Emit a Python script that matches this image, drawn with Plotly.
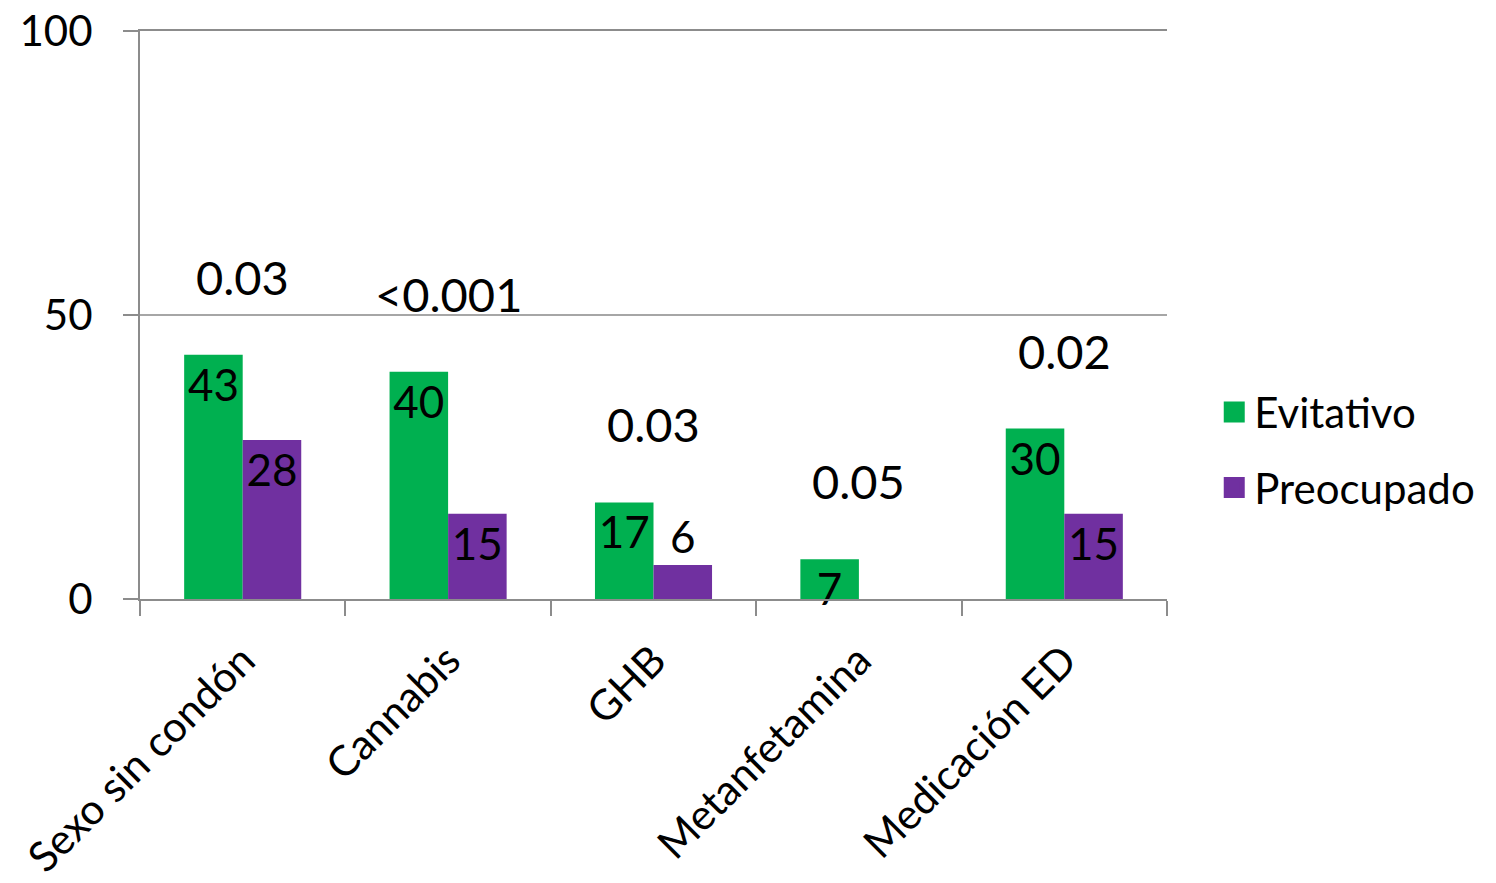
import plotly.graph_objects as go

categories = ["Sexo sin condón", "Cannabis", "GHB", "Metanfetamina", "Medicación ED"]
evitativo = [43, 40, 17, 7, 30]
preocupado = [28, 15, 6, None, 15]
p_values = ["0.03", "<0.001", "0.03", "0.05", "0.02"]
y_ticks = [0, 50, 100]

FONT = "Lato"
GREEN = "#00B050"
PURPLE = "#7030A0"
AXIS = "#8C8C8C"

pre_pos = ["inside" if (v is not None and v >= 10) else "outside" for v in preocupado]

fig = go.Figure()
fig.add_trace(go.Bar(
    name="Evitativo", x=categories, y=evitativo, marker_color=GREEN,
    marker_line_width=0, text=evitativo, textposition="inside",
    insidetextanchor="end", constraintext="none", textangle=0,
    showlegend=False, cliponaxis=False,
    textfont=dict(family=FONT, size=44, color="black"),
))
fig.add_trace(go.Bar(
    name="Preocupado", x=categories, y=preocupado, marker_color=PURPLE,
    marker_line_width=0, text=[("" if v is None else v) for v in preocupado],
    textposition=pre_pos, insidetextanchor="end", constraintext="none",
    textangle=0, showlegend=False, cliponaxis=False,
    textfont=dict(family=FONT, size=44, color="black"),
))
# legend entries with larger square swatches
for name, col, grp in [("Evitativo", GREEN, "a"), ("Preocupado", PURPLE, "b")]:
    fig.add_trace(go.Scatter(
        x=[None], y=[None], mode="markers", name=name, legendgroup=grp,
        marker=dict(symbol="square", size=16, color=col,
                    line=dict(color=col, width=5)),
        showlegend=True,
    ))

for cat, e, p, pv in zip(categories, evitativo, preocupado, p_values):
    top = max(e, p if p is not None else 0)
    fig.add_annotation(x=cat, y=top, text=pv, showarrow=False,
                       yanchor="bottom", yshift=48,
                       font=dict(family=FONT, size=47, color="black"))

fig.update_layout(
    width=1496, height=883,
    margin=dict(l=140, r=329, t=31, b=284, autoexpand=False),
    plot_bgcolor="white", paper_bgcolor="white",
    barmode="group", bargap=0.43, bargroupgap=0,
    font=dict(family=FONT, color="black"),
    legend=dict(x=1.046, xanchor="left", y=0.262, yanchor="middle",
                font=dict(family=FONT, size=42, color="black"),
                traceorder="grouped", tracegroupgap=18),
    showlegend=True,
)
fig.update_xaxes(
    type="category", showline=True, linecolor=AXIS, linewidth=2, mirror=True,
    ticks="outside", tickson="boundaries", ticklen=15, tickcolor=AXIS,
    tickwidth=2, tickangle=-45, tickfont=dict(family=FONT, size=42, color="black"),
    ticklabelstandoff=18, showgrid=False, automargin=False,
    ticklabeloverflow="allow",
)
fig.update_yaxes(
    range=[0, 100], tickvals=y_ticks, showline=True, linecolor=AXIS,
    linewidth=2, ticks="outside", ticklen=15, tickcolor=AXIS, tickwidth=2,
    showgrid=True, gridcolor="#A6A6A6", gridwidth=2, zeroline=False,
    tickfont=dict(family=FONT, size=42, color="black"), ticklabelstandoff=22,
    automargin=False, ticklabeloverflow="allow",
)

fig.write_html("out.html", config={"displayModeBar": False},
               post_script="document.body.style.margin='0';")
